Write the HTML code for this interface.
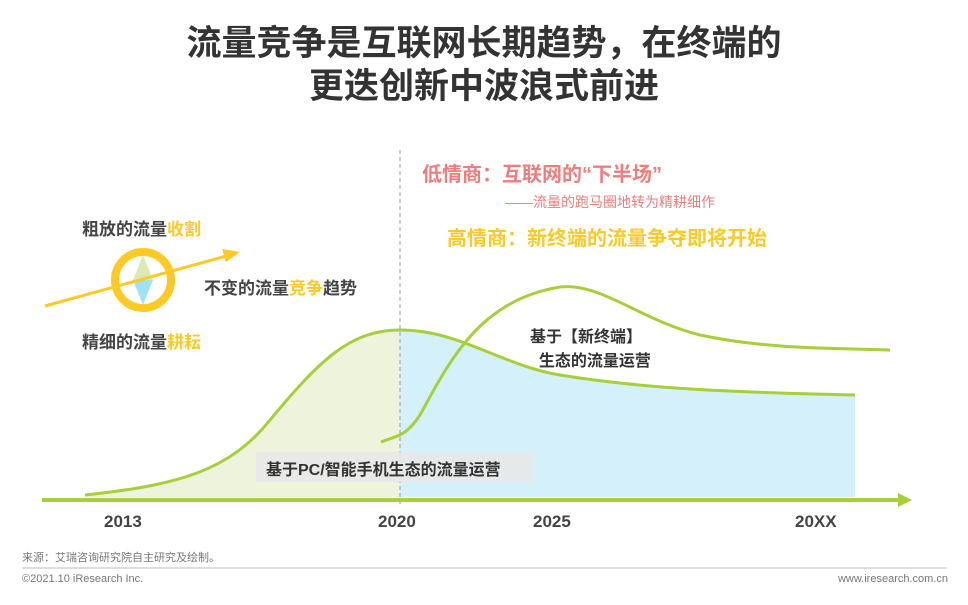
<!DOCTYPE html>
<html><head><meta charset="utf-8"><style>
html,body{margin:0;padding:0;background:#fff}
body{width:968px;height:605px;position:relative;overflow:hidden;font-family:"Liberation Sans","Noto Sans CJK SC",sans-serif}
.t{position:absolute;white-space:nowrap}
</style></head><body>
<div class="t" style="left:0;width:968px;top:22px;text-align:center;font-size:35px;font-weight:bold;color:#333;line-height:43px">流量竞争是互联网长期趋势，在终端的<br>更迭创新中波浪式前进</div>
<svg width="968" height="605" style="position:absolute;left:0;top:0">
<path d="M85,495 C180,485 230,470 270,420 C320,360 350,330 400,330 L400,497 L85,497 Z" fill="#eef3dc"/>
<path d="M400,330 C460,330 500,365 560,375 C640,388 720,392 855,395 L855,497 L400,497 Z" fill="#d4f1fb"/>
<line x1="400" y1="150" x2="400" y2="505" stroke="#aaa" stroke-width="1.2" stroke-dasharray="4,3"/>
<path d="M85,495 C180,485 230,470 270,420 C320,360 350,330 400,330 C460,330 500,365 560,375 C640,388 720,392 855,395" fill="none" stroke="#a6cf3a" stroke-width="3"/>
<path d="M381,442 C395,436 405,438 420,415 C450,360 480,300 560,287 C600,282 640,320 700,335 C770,350 840,348 890,350" fill="none" stroke="#a6cf3a" stroke-width="3"/>
<line x1="42" y1="500" x2="900" y2="500" stroke="#a6cf3a" stroke-width="4"/>
<polygon points="898,493 912,500 898,507" fill="#a6cf3a"/>
<rect x="256" y="452" width="278" height="30" fill="#e8e8e8" opacity="0.9"/>
<circle cx="143" cy="280" r="28" fill="none" stroke="#fcc925" stroke-width="8"/>
<polygon points="143,255 133,280 153,280" fill="#dbe9b3"/>
<polygon points="143,305 133,280 153,280" fill="#9fe2f4"/>
<line x1="45" y1="306" x2="230" y2="255" stroke="#fcc925" stroke-width="3"/>
<polygon points="240,252 222,249 226,262" fill="#fcc925"/>
<line x1="22" y1="568" x2="946" y2="568" stroke="#bbb" stroke-width="1"/>
</svg>
<div class="t" style="left:82px;top:215px;font-size:17px;font-weight:bold;color:#444">粗放的流量<span style="color:#fcc925">收割</span></div>
<div class="t" style="left:204px;top:274px;font-size:17px;font-weight:bold;color:#444">不变的流量<span style="color:#fcc925">竞争</span>趋势</div>
<div class="t" style="left:82px;top:328px;font-size:17px;font-weight:bold;color:#444">精细的流量<span style="color:#fcc925">耕耘</span></div>
<div class="t" style="left:422px;top:158px;font-size:20px;font-weight:bold;color:#f07c7c">低情商：互联网的“下半场”</div>
<div class="t" style="left:505px;top:192px;font-size:14px;color:#f07c7c">——流量的跑马圈地转为精耕细作</div>
<div class="t" style="left:447px;top:222px;font-size:20px;font-weight:bold;color:#fcc925">高情商：新终端的流量争夺即将开始</div>
<div class="t" style="left:530px;top:326px;font-size:16px;font-weight:bold;color:#333;line-height:24px">基于【新终端】<br>&nbsp;&nbsp;生态的流量运营</div>
<div class="t" style="left:266px;top:456px;font-size:16px;font-weight:bold;color:#333">基于PC/智能手机生态的流量运营</div>
<div class="t" style="left:104px;top:512px;font-size:17px;font-weight:bold;color:#444">2013</div>
<div class="t" style="left:378px;top:512px;font-size:17px;font-weight:bold;color:#444">2020</div>
<div class="t" style="left:533px;top:512px;font-size:17px;font-weight:bold;color:#444">2025</div>
<div class="t" style="left:795px;top:512px;font-size:17px;font-weight:bold;color:#444">20XX</div>
<div class="t" style="left:22px;top:549px;font-size:11px;color:#777">来源：艾瑞咨询研究院自主研究及绘制。</div>
<div class="t" style="left:22px;top:573px;font-size:11px;color:#777">©2021.10 iResearch Inc.</div>
<div class="t" style="right:20px;top:573px;font-size:11px;color:#777">www.iresearch.com.cn</div>
</body></html>
